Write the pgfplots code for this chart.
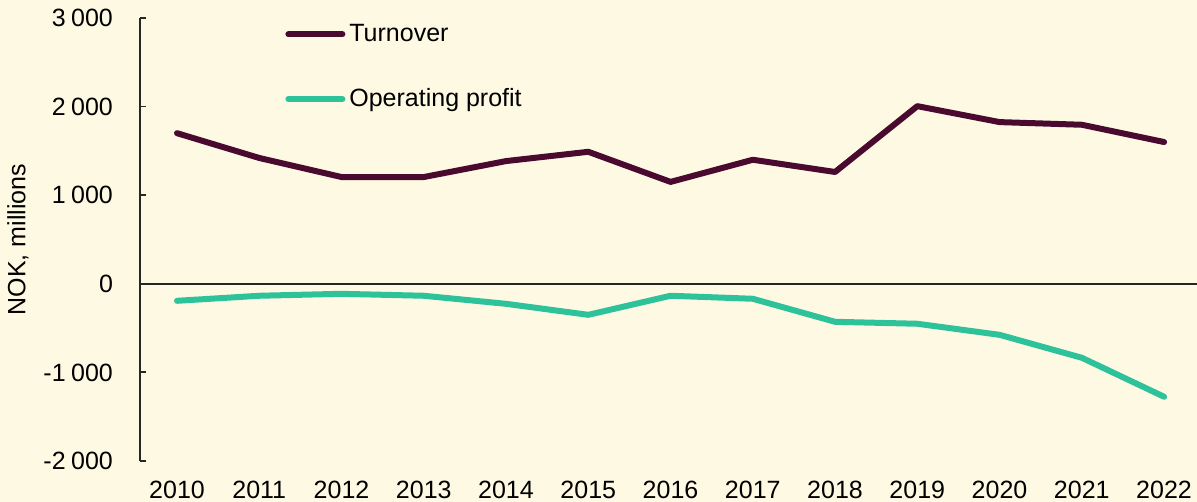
\documentclass[border=0pt]{standalone}
\usepackage{fontspec}
\setmainfont{Liberation Sans}
\usepackage{pgfplots}
\pgfplotsset{compat=1.18}
\definecolor{bgcol}{HTML}{FEF9E3}
\definecolor{turncol}{HTML}{4A0A30}
\definecolor{opcol}{HTML}{2EC29B}
\begin{document}
\begin{tikzpicture}[font=\fontsize{12.5}{15}\selectfont]
\fill[bgcol] (-70pt,-20.5pt) rectangle (528.5pt,230.5pt);
\path[use as bounding box] (-70pt,-20.5pt) rectangle (528.5pt,230.5pt);
\begin{axis}[
    at={(0pt,0pt)}, anchor=south west,
    scale only axis,
    width=528.5pt, height=221.5pt,
    xmin=2009.55, xmax=2022.4,
    ymin=-2000, ymax=3000,
    xtick={2010,...,2022},
    ytick={-2000,-1000,0,1000,2000,3000},
    axis y line=left,
    axis x line=bottom,
    axis line style={-, black!85, line width=0.9pt},
    x axis line style={draw=none},
    xtick style={draw=none},
    ytick style={black!85, line width=0.9pt},
    tick align=inside,
    major tick length=3pt,
    xticklabel style={yshift=-6.5pt},
    yticklabel style={xshift=-10pt},
    /pgf/number format/assume math mode=true,
    yticklabel={\pgfmathprintnumber[1000 sep={\hspace{0.22em}}]{\tick}},
    xticklabel={\pgfmathprintnumber[1000 sep={}]{\tick}},
    ylabel={NOK, millions},
    ylabel style={at={(axis description cs:-0.1154,0.5)}, anchor=center},
    extra y ticks={0},
    extra y tick labels={},
    extra y tick style={grid=major, major grid style={black!85, line width=0.9pt}, tick style={draw=none}},
    legend style={draw=none, fill=none, at={(0.1315,1.005)}, anchor=north west,
        row sep=18pt, font=\fontsize{12.5}{15}\selectfont},
    legend cell align=left,
    legend image code/.code={\draw[#1, line cap=round] (0pt,0pt) -- (27pt,0pt);},
    every axis plot/.append style={line width=3pt, line cap=round, line join=round},
    clip=false,
]
\addplot[turncol] coordinates {
    (2010,1700) (2011,1420) (2012,1205) (2013,1205) (2014,1385) (2015,1490)
    (2016,1150) (2017,1400) (2018,1262) (2019,2005) (2020,1825) (2021,1795) (2022,1600)
};
\addlegendentry{Turnover}
\addplot[opcol] coordinates {
    (2010,-192) (2011,-135) (2012,-113) (2013,-135) (2014,-226) (2015,-350)
    (2016,-135) (2017,-169) (2018,-429) (2019,-451) (2020,-576) (2021,-835) (2022,-1275)
};
\addlegendentry{Operating profit}
\end{axis}
\end{tikzpicture}
\end{document}
